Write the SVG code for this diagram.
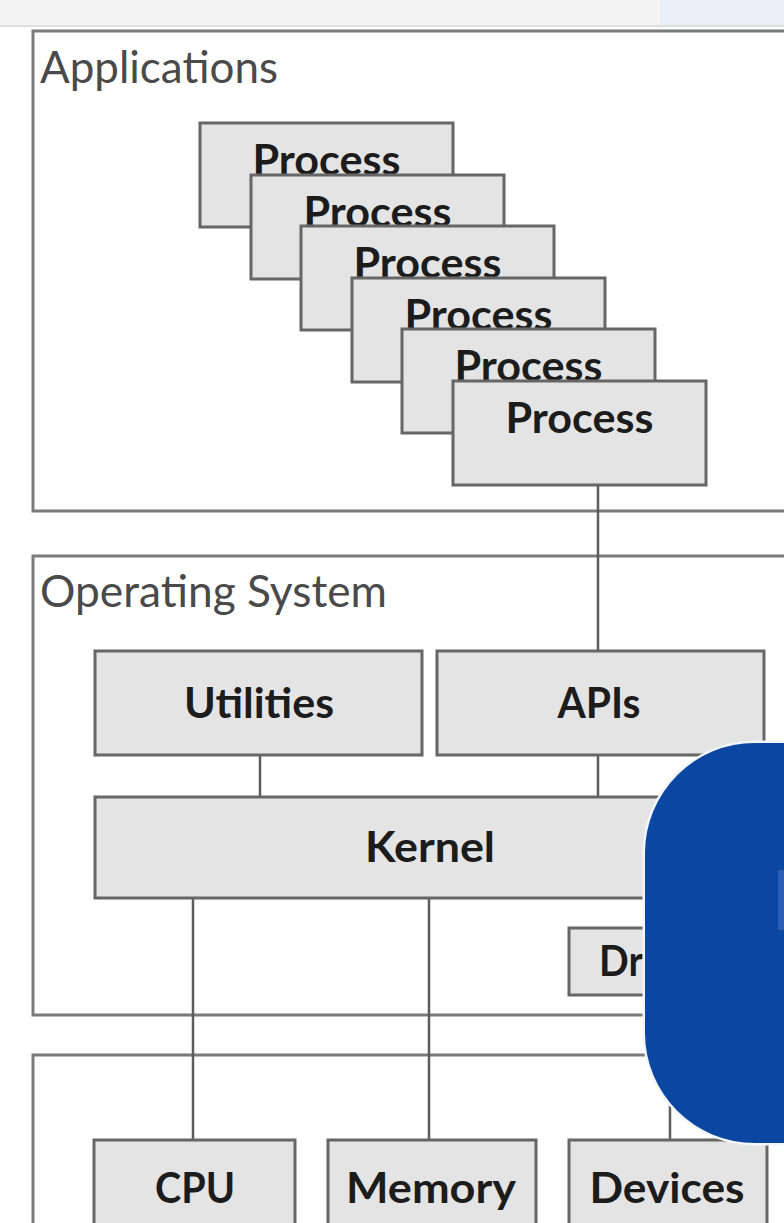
<svg xmlns="http://www.w3.org/2000/svg" width="784" height="1223" viewBox="0 0 784 1223">
  <style>
    .layer { fill: #ffffff; stroke: #7b7b7b; stroke-width: 3; }
    .box { fill: #e4e4e4; stroke: #666666; stroke-width: 3; }
    .wire { stroke: #5c5c5c; stroke-width: 2.5; fill: none; }
    .title { font-family: Lato, "Open Sans", "Liberation Sans", sans-serif; font-size: 45px; fill: #4a4a4a; }
    .lbl { font-family: Lato, "Open Sans", "Liberation Sans", sans-serif; font-weight: bold; font-size: 42px; fill: #1c1c1c; text-anchor: middle; }
  </style>

  <rect width="784" height="1223" fill="#ffffff"/>

  <!-- window strip along the top -->
  <rect x="0" y="0" width="784" height="25" fill="#f4f4f4"/>
  <rect x="660" y="0" width="124" height="25" fill="#eaf0f8"/>
  <rect x="0" y="25" width="784" height="2" fill="#dedede"/>

  <!-- layers -->
  <g id="applications">
    <rect class="layer" x="33" y="31" width="800" height="480"/>
    <text class="title" x="40" y="83" textLength="238" lengthAdjust="spacingAndGlyphs">Applications</text>
  </g>
  <g id="operating-system">
    <rect class="layer" x="33" y="556" width="800" height="459"/>
    <text class="title" x="40" y="607" textLength="347" lengthAdjust="spacingAndGlyphs">Operating System</text>
  </g>
  <g id="hardware">
    <rect class="layer" x="33" y="1055" width="800" height="250"/>
  </g>

  <!-- connectors -->
  <g id="connectors">
    <line class="wire" x1="598" y1="485" x2="598" y2="651"/>
    <line class="wire" x1="260" y1="755" x2="260" y2="797"/>
    <line class="wire" x1="598" y1="755" x2="598" y2="797"/>
    <line class="wire" x1="193" y1="898" x2="193" y2="1140"/>
    <line class="wire" x1="429" y1="898" x2="429" y2="1140"/>
    <line class="wire" x1="670" y1="995" x2="670" y2="1140"/>
  </g>

  <!-- stacked processes -->
  <g id="process-1">
    <rect class="box" x="200" y="123" width="253" height="104"/>
    <text class="lbl" x="326.5" y="175" textLength="148" lengthAdjust="spacingAndGlyphs">Process</text>
  </g>
  <g id="process-2">
    <rect class="box" x="251" y="175" width="253" height="104"/>
    <text class="lbl" x="377.5" y="227" textLength="148" lengthAdjust="spacingAndGlyphs">Process</text>
  </g>
  <g id="process-3">
    <rect class="box" x="301" y="226" width="253" height="104"/>
    <text class="lbl" x="427.5" y="278" textLength="148" lengthAdjust="spacingAndGlyphs">Process</text>
  </g>
  <g id="process-4">
    <rect class="box" x="352" y="278" width="253" height="104"/>
    <text class="lbl" x="478.5" y="330" textLength="148" lengthAdjust="spacingAndGlyphs">Process</text>
  </g>
  <g id="process-5">
    <rect class="box" x="402" y="329" width="253" height="104"/>
    <text class="lbl" x="528.5" y="381" textLength="148" lengthAdjust="spacingAndGlyphs">Process</text>
  </g>
  <g id="process-6">
    <rect class="box" x="453" y="381" width="253" height="104"/>
    <text class="lbl" x="579.5" y="433" textLength="148" lengthAdjust="spacingAndGlyphs">Process</text>
  </g>

  <!-- operating system parts -->
  <g id="utilities">
    <rect class="box" x="95" y="651" width="327" height="104"/>
    <text class="lbl" x="259" y="718" textLength="150" lengthAdjust="spacingAndGlyphs">Utilities</text>
  </g>
  <g id="apis">
    <rect class="box" x="437" y="651" width="327" height="104"/>
    <text class="lbl" x="599" y="718" textLength="83" lengthAdjust="spacingAndGlyphs">APIs</text>
  </g>
  <g id="kernel">
    <rect class="box" x="95" y="797" width="670" height="101"/>
    <text class="lbl" x="430" y="862" textLength="130" lengthAdjust="spacingAndGlyphs">Kernel</text>
  </g>
  <g id="drivers">
    <rect class="box" x="569" y="928" width="200" height="67"/>
    <text class="lbl" x="599" y="976" textLength="44" lengthAdjust="spacingAndGlyphs" style="text-anchor:start">Dr</text>
  </g>

  <!-- hardware parts -->
  <g id="cpu">
    <rect class="box" x="94" y="1140" width="201" height="120"/>
    <text class="lbl" x="195" y="1203" textLength="80" lengthAdjust="spacingAndGlyphs">CPU</text>
  </g>
  <g id="memory">
    <rect class="box" x="328" y="1140" width="208" height="120"/>
    <text class="lbl" x="431" y="1203" textLength="170" lengthAdjust="spacingAndGlyphs">Memory</text>
  </g>
  <g id="devices">
    <rect class="box" x="569" y="1140" width="198" height="120"/>
    <text class="lbl" x="667" y="1203" textLength="155" lengthAdjust="spacingAndGlyphs">Devices</text>
  </g>

  <!-- blue rounded panel over the right side -->
  <g id="panel">
    <rect x="645" y="743" width="320" height="400" rx="110" ry="110" fill="#0b46a2" stroke="#f2f6ff" stroke-width="5" paint-order="stroke"/>
    <rect x="778" y="870" width="6" height="60" fill="#2c5fb4"/>
  </g>
</svg>
